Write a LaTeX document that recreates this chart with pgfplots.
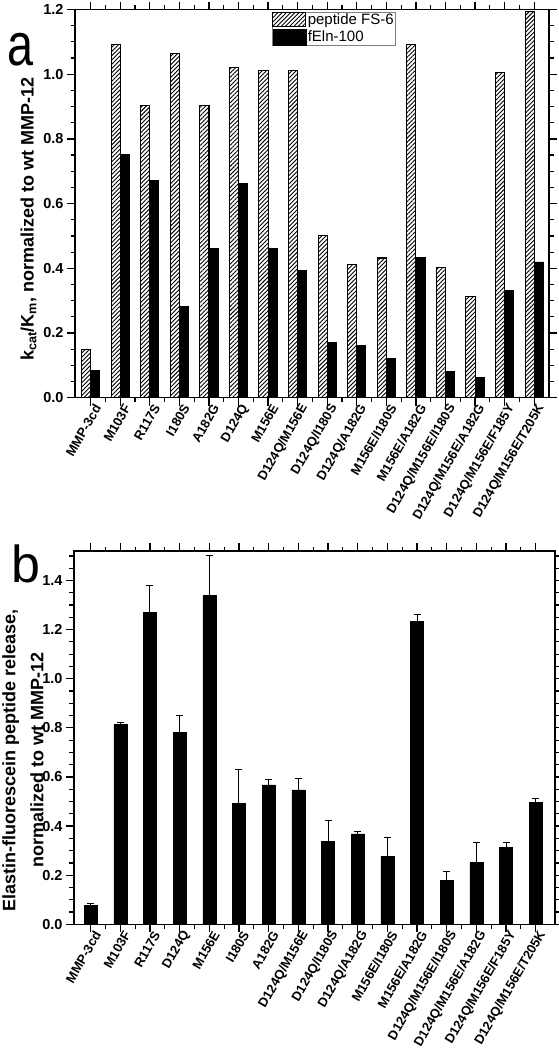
\documentclass[border=0pt]{standalone}
\usepackage{fontspec}
\setmainfont{Liberation Sans}
\usepackage{pgfplots}
\usepackage{pgfplotstable}
\pgfplotsset{compat=1.18}
\usetikzlibrary{patterns.meta}

\pgfplotstableread{
x pep feln
0 0.150 0.085
1 1.092 0.752
2 0.902 0.672
3 1.063 0.283
4 0.902 0.462
5 1.020 0.663
6 1.012 0.462
7 1.011 0.393
8 0.502 0.171
9 0.412 0.162
10 0.432 0.122
11 1.092 0.433
12 0.402 0.082
13 0.312 0.062
14 1.004 0.332
15 1.193 0.420
}\dataA

\pgfplotstableread{
x y e
0 0.076 0.008
1 0.815 0.007
2 1.271 0.108
3 0.782 0.068
4 1.338 0.162
5 0.493 0.136
6 0.568 0.020
7 0.547 0.048
8 0.339 0.083
9 0.368 0.011
10 0.277 0.077
11 1.233 0.027
12 0.178 0.039
13 0.253 0.081
14 0.314 0.019
15 0.498 0.015
}\dataB

\pgfplotsset{
  panel/.style={
    scale only axis,
    tick align=outside,
    axis line style={line width=1.4pt},
    major tick length=8pt,
    minor tick length=4.5pt,
    every tick/.style={black, line width=1.2pt},
    xtick={0,...,15},
    minor x tick num=1,
    minor y tick num=3,
    ymin=0,
    ytick distance=0.2,
    yticklabel style={/pgf/number format/.cd, fixed, fixed zerofill, precision=1, assume math mode=true},
    tick label style={font=\bfseries\fontsize{14.5}{16}\selectfont},
    xticklabel style={rotate=60, anchor=east, font=\bfseries\fontsize{13}{14}\selectfont, xshift=7pt, yshift=-6pt},
    ylabel style={font=\bfseries\fontsize{18}{28}\selectfont},
  }
}

\begin{document}
\begin{tikzpicture}
\useasboundingbox (0pt,0pt) rectangle (559pt,-1050pt);

\begin{axis}[panel,
  anchor=south west, at={(75pt,-397.7pt)},
  width=474pt, height=388.2pt,
  xmin=-0.53, xmax=15.5, ymax=1.2,
  xticklabels={MMP-3cd,M103F,R117S,I180S,A182G,D124Q,M156E,D124Q/M156E,D124Q/I180S,D124Q/A182G,M156E/I180S,M156E/A182G,D124Q/M156E/I180S,D124Q/M156E/A182G,D124Q/M156E/F185Y,D124Q/M156E/T205K},
  ylabel={k\textsubscript{cat}/K\textsubscript{m}, normalized to wt MMP-12},
  ylabel style={at={(axis description cs:-0.098,0.46)}, anchor=center},
  legend style={at={(0.4156,0.9936)}, anchor=north west, draw=gray, line width=0.6pt,
    inner sep=0pt, font=\fontsize{15}{17}\selectfont, row sep=1pt,
    nodes={inner sep=1.5pt}},
  legend cell align=left,
]
\addplot[ybar, bar width=0.31, bar shift=-0.155, draw=black, line width=1.1pt,
  pattern={Lines[angle=45,distance=3pt,line width=0.9pt]}, pattern color=black,
  legend image code/.code={\draw[black, line width=1pt, pattern={Lines[angle=45,distance=3pt,line width=0.9pt]}] (0pt,-7pt) rectangle (33pt,7pt);}]
  table[x=x, y=pep] {\dataA};
\addlegendentry{peptide FS-6}
\addplot[ybar, bar width=0.29, bar shift=0.155, draw=black, fill=black, line width=0.5pt,
  legend image code/.code={\draw[black, fill=black] (0pt,-8pt) rectangle (33pt,8pt);}]
  table[x=x, y=feln] {\dataA};
\addlegendentry{fEln-100}
\end{axis}

\node[anchor=base west, inner sep=0pt, xscale=0.78, font=\fontsize{60}{60}\selectfont] at (7pt,-65pt) {a};

\begin{axis}[panel,
  anchor=south west, at={(74pt,-924.3pt)},
  width=481pt, height=373.3pt,
  xmin=-0.56, xmax=15.65, ymax=1.52,
  xticklabels={MMP-3cd,M103F,R117S,D124Q,M156E,I180S,A182G,D124Q/M156E,D124Q/I180S,D124Q/A182G,M156E/I180S,M156E/A182G,D124Q/M156E/I180S,D124Q/M156E/A182G,D124Q/M156E/F185Y,D124Q/M156E/T205K},
  ylabel={Elastin-fluorescein peptide release,\\normalized to wt MMP-12},
  ylabel style={at={(axis description cs:-0.106,0.44)}, anchor=center, align=center},
]
\addplot[ybar, bar width=0.44, bar shift=0, draw=black, fill=black, line width=0.5pt,
  error bars/.cd, y dir=plus, y explicit,
  error bar style={line width=1pt, black},
  error mark options={rotate=90, mark size=3.5pt, line width=1pt, black}]
  table[x=x, y=y, y error=e] {\dataB};
\end{axis}

\node[anchor=base west, inner sep=0pt, font=\fontsize{52}{52}\selectfont] at (11pt,-582pt) {b};
\end{tikzpicture}
\end{document}
